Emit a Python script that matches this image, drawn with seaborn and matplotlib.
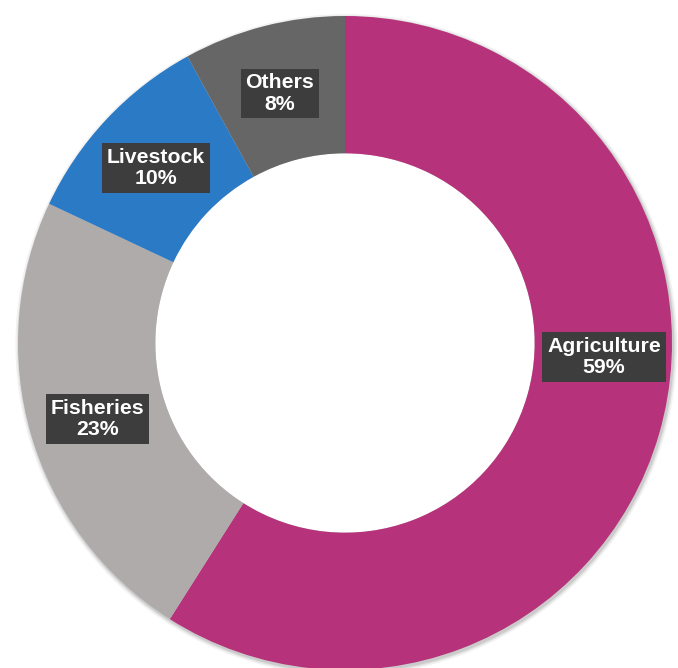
import matplotlib
matplotlib.use("Agg")
import matplotlib.pyplot as plt
import seaborn as sns

categories = ["Agriculture", "Fisheries", "Livestock", "Others"]
shares = [59, 23, 10, 8]
colors = ["#B6327A", "#AFABAB", "#2A7AC6", "#666666"]
# label box centres (axes data coords, ring radius = 1)
label_pos = [(0.792, -0.043), (-0.758, -0.232), (-0.578, 0.535), (-0.199, 0.763)]

sns.set_theme(style="white")
plt.rcParams['font.family'] = ['Liberation Sans', 'DejaVu Sans']

fig = plt.figure(figsize=(6.78, 6.68), dpi=100)
ax = fig.add_axes([0, 0, 1, 1])
ax.set_axis_off()

# soft shadow
for r, a in [(1.012, 0.05), (1.007, 0.07), (1.003, 0.09)]:
    shadow = plt.Circle((0.004, -0.006), r, color="black", alpha=a, zorder=0, lw=0)
    ax.add_patch(shadow)
ax.add_patch(plt.Circle((0, 0), 0.58, color="white", zorder=0.5, lw=0))

wedges, _ = ax.pie(shares, colors=colors, startangle=90, counterclock=False,
                   radius=1.0, wedgeprops=dict(width=0.42, linewidth=0),
                   normalize=True)
for w in wedges:
    w.set_zorder(1)

for cat, val, (x, y) in zip(categories, shares, label_pos):
    ax.text(x, y, f"{cat}\n{val}%", ha="center", va="center", color="white",
            fontsize=15.3, fontweight="bold", linespacing=1.15, zorder=3,
            bbox=dict(boxstyle="square,pad=0.22", facecolor="#3D3D3D", edgecolor="none"))

ax.set_xlim(-345 / 327, (678 - 345) / 327)
ax.set_ylim(-(668 - 343) / 327, 343 / 327)
ax.set_aspect("auto")

fig.savefig("out.png", dpi=100, facecolor="white")
